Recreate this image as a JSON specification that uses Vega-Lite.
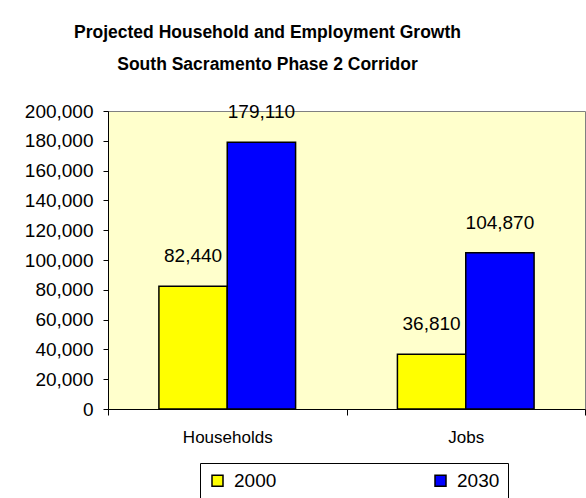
{
  "$schema": "https://vega.github.io/schema/vega-lite/v6.json",
  "autosize": "none",
  "padding": {"left": 108, "top": 111, "right": 1, "bottom": 89},
  "width": 477,
  "height": 298,
  "background": "white",
  "title": {
    "text": ["Projected Household and Employment Growth", "South Sacramento Phase 2 Corridor"],
    "font": "Liberation Sans",
    "fontSize": 17.5,
    "fontWeight": "bold",
    "color": "black",
    "lineHeight": 32,
    "anchor": "middle",
    "dx": -79,
    "offset": 29
  },
  "data": {
    "values": [
      {"category": "Households", "year": "2000", "value": 82440},
      {"category": "Households", "year": "2030", "value": 179110},
      {"category": "Jobs", "year": "2000", "value": 36810},
      {"category": "Jobs", "year": "2030", "value": 104870}
    ]
  },
  "encoding": {
    "x": {
      "field": "category",
      "type": "nominal",
      "sort": ["Households", "Jobs"],
      "scale": {"paddingInner": 0, "paddingOuter": 0},
      "axis": {
        "title": null,
        "labelAngle": 0,
        "tickBand": "extent",
        "labelFont": "Liberation Sans",
        "labelFontSize": 17,
        "labelColor": "black",
        "labelPadding": 14,
        "domainColor": "black",
        "tickColor": "black",
        "tickSize": 6
      }
    },
    "xOffset": {
      "field": "year",
      "type": "nominal",
      "scale": {"paddingOuter": 0.745, "paddingInner": 0}
    },
    "y": {
      "field": "value",
      "type": "quantitative",
      "scale": {"domain": [0, 200000], "nice": false},
      "axis": {
        "title": null,
        "values": [0, 20000, 40000, 60000, 80000, 100000, 120000, 140000, 160000, 180000, 200000],
        "format": ",d",
        "grid": false,
        "labelFont": "Liberation Sans",
        "labelFontSize": 19,
        "labelColor": "black",
        "labelPadding": 10,
        "domainColor": "black",
        "tickColor": "black",
        "tickSize": 5
      }
    }
  },
  "layer": [
    {
      "mark": {"type": "bar", "stroke": "black", "strokeWidth": 1.5},
      "encoding": {
        "color": {
          "field": "year",
          "type": "nominal",
          "scale": {"domain": ["2000", "2030"], "range": ["#FFFF00", "#0000FF"]},
          "legend": {
            "title": null,
            "orient": "none",
            "direction": "horizontal",
            "legendX": 92,
            "legendY": 352,
            "padding": 8,
            "columnPadding": 154,
            "strokeColor": "black",
            "fillColor": "white",
            "symbolType": "square",
            "symbolSize": 121,
            "symbolStrokeColor": "black",
            "symbolStrokeWidth": 1.5,
            "labelFont": "Liberation Sans",
            "labelFontSize": 19,
            "labelColor": "black",
            "labelOffset": 7
          }
        }
      }
    },
    {
      "mark": {"type": "text", "baseline": "alphabetic", "dy": -24, "font": "Liberation Sans", "fontSize": 19, "color": "black"},
      "encoding": {
        "text": {"field": "value", "type": "quantitative", "format": ",d"}
      }
    }
  ],
  "config": {
    "view": {"fill": "#FFFFCC", "stroke": "#808080"}
  }
}
